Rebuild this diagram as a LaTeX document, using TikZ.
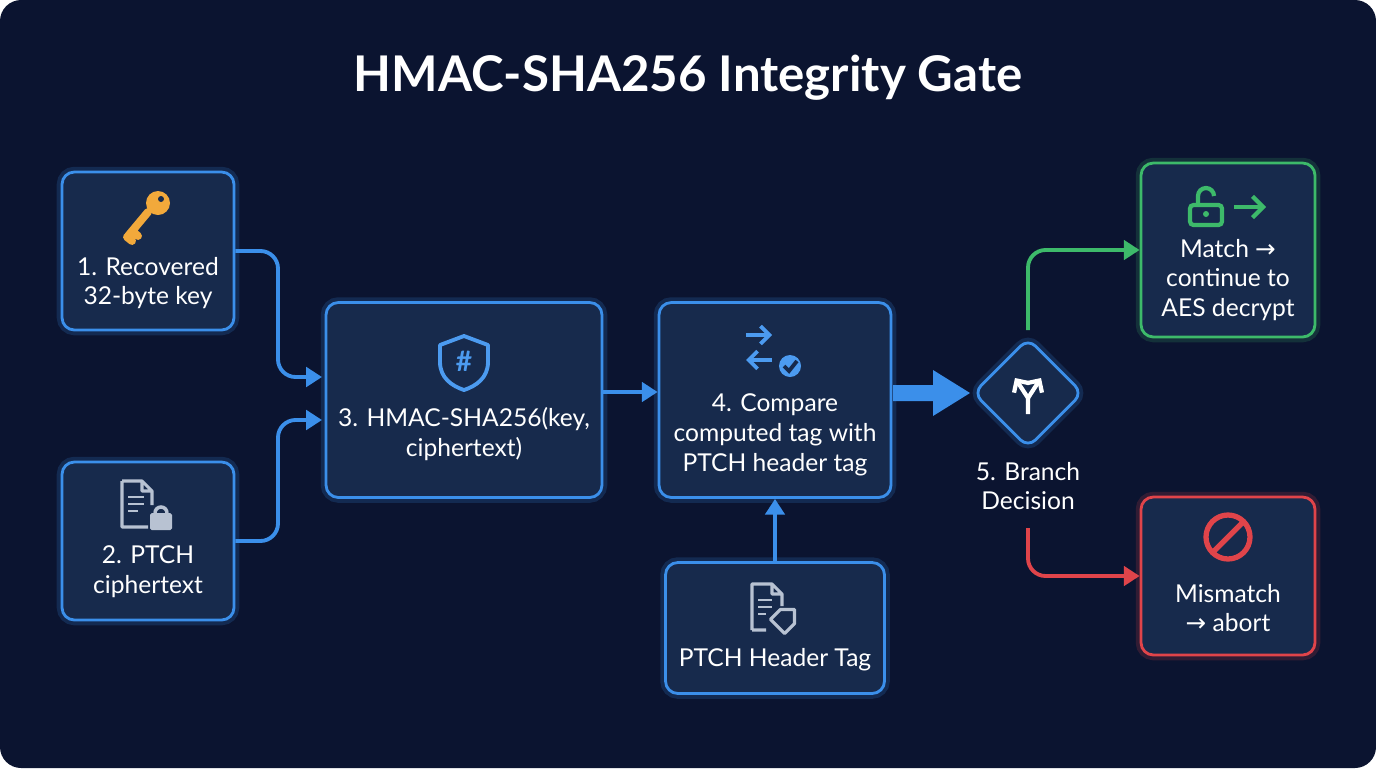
\documentclass[tikz,border=0pt]{standalone}
\usepackage{fontspec}
\setmainfont{Lato}
\newfontfamily\symfont{DejaVu Sans}
\usetikzlibrary{arrows.meta,calc,positioning,shapes.geometric}
\definecolor{bgnavy}{HTML}{0B1430}
\definecolor{boxfill}{HTML}{172A4C}
\definecolor{flowblue}{HTML}{3B8FEA}
\definecolor{okgreen}{HTML}{3DBA6A}
\definecolor{badred}{HTML}{E0444A}
\definecolor{keygold}{HTML}{F2A93B}
\definecolor{iconblue}{HTML}{4C9BF0}
\definecolor{icongrey}{HTML}{B8C2D2}
\tikzset{
  step/.style={draw=#1,line width=1.6pt,fill=boxfill,rounded corners=7pt,
    preaction={draw=#1,line width=6pt,opacity=.18,rounded corners=7pt}},
  step/.default=flowblue,
  lbl/.style={text=white,align=center,font=\fontsize{14}{17}\selectfont},
  link/.style={draw=#1,line width=2.2pt,rounded corners=10pt,-{Triangle[length=9pt,width=11pt]}},
  link/.default=flowblue,
}
\begin{document}
\begin{tikzpicture}[x=0.02cm,y=-0.02cm]
  % Hintergrund
  \useasboundingbox (0,0) rectangle (1376,768);
  \fill[bgnavy,rounded corners=12pt] (0,0) rectangle (1376,768);
  \node[text=white,font=\bfseries\fontsize{28}{34}\selectfont] (title) at (688,78) {HMAC-SHA256 Integrity Gate};
  % Kaesten
  \node[step,minimum width=3.44cm,minimum height=3.16cm] (key) at (148,251) {};
  \node[step,minimum width=3.44cm,minimum height=3.16cm] (ct) at (148,541) {};
  \node[step,minimum width=5.52cm,minimum height=3.9cm] (hmac) at (464,400) {};
  \node[step,minimum width=4.64cm,minimum height=3.9cm] (cmp) at (775,400) {};
  \node[step,minimum width=4.38cm,minimum height=2.62cm] (tag) at (775,628) {};
  \node[step=okgreen,minimum width=3.48cm,minimum height=3.48cm] (ok) at (1228,250) {};
  \node[step=badred,minimum width=3.48cm,minimum height=3.16cm] (bad) at (1228,576) {};
  \node[step,diamond,rounded corners=6pt,minimum width=2.2cm,minimum height=2.2cm,inner sep=0pt] (dec) at (1028,393) {};
  % Texte
  \node[lbl] (keyt) at (148,283) {1. Recovered\\32-byte key};
  \node[lbl] (ctt) at (148,572) {2. PTCH\\ciphertext};
  \node[lbl] (hmact) at (464,434) {3. HMAC-SHA256(key,\\ciphertext)};
  \node[lbl] (cmpt) at (775,435) {4. Compare\\computed tag with\\PTCH header tag};
  \node[lbl] (tagt) at (775,660) {PTCH Header Tag};
  \node[lbl] (okt) at (1228,280) {Match {\symfont →}\\continue to\\AES decrypt};
  \node[lbl] (badt) at (1228,608) {Mismatch\\{\symfont →} abort};
  \node[lbl] (dect) at (1028,486) {5. Branch\\Decision};
  % Symbole
  \draw[keygold,line width=4.5pt,line cap=round] (148,212)--(128,236) (132,231)--(138,236) (127,237)--(132,241);
  \fill[keygold] (158,203) circle (12);
  \fill[boxfill] (161,199) circle (3);
  \draw[icongrey,line width=1.8pt,line join=round] (122,481)--(122,527)--(148,527) (122,481)--(142,481)--(152,491)--(152,505) (142,481)--(142,491)--(152,491);
  \draw[icongrey,line width=1.6pt] (128,497)--(144,497) (128,504)--(144,504) (128,511)--(138,511);
  \fill[icongrey,rounded corners=1pt] (150,513) rectangle (172,530);
  \draw[icongrey,line width=2pt] (155,513) arc (180:360:6);
  \draw[iconblue,line width=2.2pt,line join=round] (464,336)--(488,345)--(488,362) .. controls (488,378) and (476,386) .. (464,390) .. controls (452,386) and (440,378) .. (440,362)--(440,345)--cycle;
  \node[text=iconblue,font=\bfseries\fontsize{16}{16}\selectfont] (hash) at (464,361) {\#};
  \draw[iconblue,line width=2.2pt,-{Straight Barb[length=5pt]}] (746,335)--(772,335);
  \draw[iconblue,line width=2.2pt,-{Straight Barb[length=5pt]}] (772,360)--(746,360);
  \fill[iconblue] (790,366) circle (11);
  \draw[boxfill,line width=2.2pt] (784,366)--(789,371)--(797,361);
  \draw[icongrey,line width=1.8pt,line join=round] (752,630)--(752,584)--(772,584)--(782,594)--(782,606) (772,584)--(772,594)--(782,594) (752,630)--(766,630);
  \draw[icongrey,line width=1.6pt] (758,600)--(772,600) (758,607)--(772,607) (758,614)--(766,614);
  \draw[icongrey,line width=1.8pt,line join=round,rotate around={45:(786,618)}] (774,608)--(788,608)--(798,618)--(788,628)--(774,628)--cycle;
  \draw[okgreen,line width=2.4pt,rounded corners=2pt] (1190,205) rectangle (1222,225);
  \draw[okgreen,line width=2.4pt] (1198,205)--(1198,196) arc (180:360:8);
  \fill[okgreen] (1206,214) circle (3);
  \draw[okgreen,line width=2.4pt,-{Straight Barb[length=6pt]}] (1234,207)--(1266,207);
  \draw[badred,line width=3pt] (1228,537) circle (22) (1213,552)--(1243,522);
  \draw[white,line width=2.4pt,-{Straight Barb[length=5pt]}] (1028,414)--(1028,398)--(1015,378);
  \draw[white,line width=2.4pt,-{Straight Barb[length=5pt]}] (1028,398)--(1041,378);
  % Verbindungen
  \coordinate (k1) at (322,377);
  \coordinate (c1) at (322,420);
  \draw[link] (key.east) -- (278,251) |- (k1);
  \draw[link] (ct.east) -- (278,541) |- (c1);
  \draw[link] (hmac.east |- 392,392) -- (cmp.west |- 392,392);
  \draw[link] (tag.north) -- (cmp.south);
  \fill[flowblue] (893,385)--(933,385)--(933,370)--(970,393)--(933,416)--(933,401)--(893,401)--cycle;
  \draw[link=okgreen] (1028,330) |- (ok.west);
  \coordinate (d1) at (1028,528);
  \draw[link=badred] (d1) |- (bad.west);
\end{tikzpicture}
\end{document}
